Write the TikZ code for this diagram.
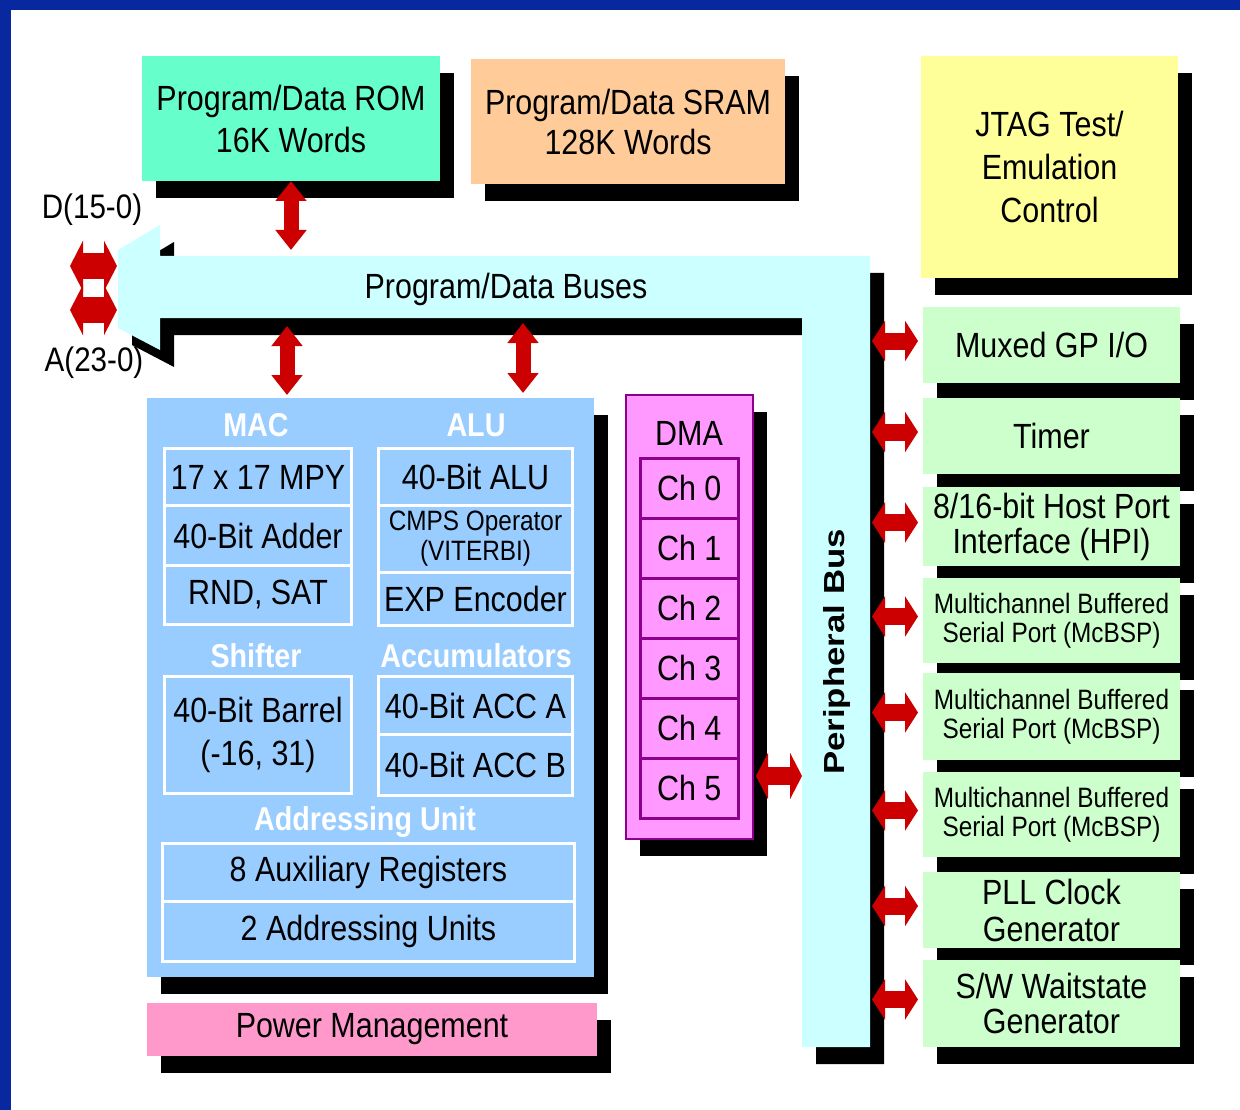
\documentclass[tikz,border=0pt]{standalone}
\usepackage{fontspec}
\setmainfont{Liberation Sans}[FakeStretch=0.87]
\newfontfamily\widesans{Liberation Sans}[FakeStretch=1.2]
\usetikzlibrary{arrows.meta,shadows}
\definecolor{frameblue}{RGB}{8,40,160}
\definecolor{buscyan}{RGB}{204,255,255}
\definecolor{romgreen}{RGB}{102,255,204}
\definecolor{sramorange}{RGB}{255,204,153}
\definecolor{jtagyellow}{RGB}{255,255,153}
\definecolor{perigreen}{RGB}{204,255,204}
\definecolor{cpublue}{RGB}{153,204,255}
\definecolor{powerpink}{RGB}{255,153,204}
\definecolor{dmapink}{RGB}{255,153,255}
\definecolor{dmaline}{RGB}{140,0,140}
\definecolor{arrowred}{RGB}{204,0,0}
\newcommand{\mainsz}{\fontsize{35}{42}\selectfont}
\newcommand{\smallsz}{\fontsize{28}{29}\selectfont}
\newcommand{\headsz}{\bfseries\fontsize{33}{38}\selectfont}
\begin{document}
\begin{tikzpicture}[x=1pt,y=-1pt,
  dropped/.style={drop shadow={shadow xshift=14pt,shadow yshift=-17pt,fill=black,opacity=1}},
  blk/.style={dropped,anchor=north west,inner sep=0pt,outer sep=0pt,align=center,font=\mainsz},
  peri/.style={blk,fill=perigreen,minimum width=257pt},
  cell/.style={draw=white,line width=3pt,fill=cpublue,anchor=north west,inner sep=0pt,align=center,font=\mainsz},
  chan/.style={draw=dmaline,line width=2.5pt,fill=dmapink,anchor=north west,inner sep=0pt,minimum width=98pt,minimum height=60pt,font=\mainsz},
  head/.style={text=white,font=\headsz},
  bivert/.style={draw=arrowred,line width=15pt,{Triangle[length=20pt,width=30pt]}-{Triangle[length=20pt,width=30pt]}},
  bihor/.style={draw=arrowred,line width=17pt,{Triangle[length=13pt,width=40pt]}-{Triangle[length=13pt,width=40pt]}},
  biext/.style={draw=arrowred,line width=26pt,{Triangle[length=13pt,width=50pt]}-{Triangle[length=13pt,width=50pt]}}]
\useasboundingbox (0,0) rectangle (1240,1110);
\fill[frameblue] (0,0) rectangle (1240,10);
\fill[frameblue] (0,0) rectangle (11,1110);

% buses
\fill[buscyan,dropped] (160,256) -- (160,225) -- (118,250) -- (118,328) -- (160,350) -- (160,318)
  -- (802,318) -- (802,1047) -- (870,1047) -- (870,256) -- cycle;
\node[font=\mainsz] (busname) at (506,289) {Program/Data Buses};
\node[rotate=90,font=\widesans\bfseries\fontsize{29}{34}\selectfont] (pbusname) at (837,652) {Peripheral Bus};

% memories and JTAG
\node[blk,fill=romgreen,minimum width=298pt,minimum height=125pt] (rom) at (142,56) {Program/Data ROM\\16K Words};
\node[blk,fill=sramorange,minimum width=314pt,minimum height=125pt,font=\fontsize{35}{40}\selectfont] (sram) at (471,59) {Program/Data SRAM\\128K Words};
\node[blk,fill=jtagyellow,minimum width=257pt,minimum height=222pt,font=\fontsize{35}{43}\selectfont] (jtag) at (921,56) {JTAG Test/\\Emulation\\Control};

% peripherals
\node[peri,minimum height=76pt] (gpio) at (923,307) {Muxed GP I/O};
\node[peri,minimum height=76pt] (timer) at (923,398) {Timer};
\node[peri,minimum height=79pt,font=\fontsize{35}{35}\selectfont] (hpi) at (923,487) {8/16-bit Host Port\\Interface (HPI)};
\node[peri,minimum height=85pt,font=\smallsz] (mcbspa) at (923,578) {Multichannel Buffered\\Serial Port (McBSP)};
\node[peri,minimum height=87pt,font=\smallsz] (mcbspb) at (923,673) {Multichannel Buffered\\Serial Port (McBSP)};
\node[peri,minimum height=85pt,font=\smallsz] (mcbspc) at (923,772) {Multichannel Buffered\\Serial Port (McBSP)};
\node[peri,minimum height=76pt,font=\fontsize{35}{37}\selectfont] (pll) at (923,872) {PLL Clock\\Generator};
\node[peri,minimum height=87pt,font=\fontsize{35}{35}\selectfont] (waits) at (923,960) {S/W Waitstate\\Generator};

% CPU
\node[blk,fill=cpublue,minimum width=447pt,minimum height=579pt] (cpu) at (147,398) {};
\node[head] (machead) at (256,425) {MAC};
\node[head] (aluhead) at (476,425) {ALU};
\node[cell,minimum width=187pt,minimum height=57pt] (mpy) at (163,447) {17 x 17 MPY};
\node[cell,minimum width=187pt,minimum height=60pt] (adder) at (163,504) {40-Bit Adder};
\node[cell,minimum width=187pt,minimum height=59pt] (rnd) at (163,564) {RND, SAT};
\node[cell,minimum width=194pt,minimum height=57pt] (alu) at (377,447) {40-Bit ALU};
\node[cell,minimum width=194pt,minimum height=67pt,font=\fontsize{28}{30}\selectfont] (cmps) at (377,504) {CMPS Operator\\(VITERBI)};
\node[cell,minimum width=194pt,minimum height=53pt] (expenc) at (377,571) {EXP Encoder};
\node[head] (shifthead) at (256,656) {Shifter};
\node[head] (acchead) at (476,656) {Accumulators};
\node[cell,minimum width=187pt,minimum height=117pt,font=\fontsize{35}{43}\selectfont] (barrel) at (163,675) {40-Bit Barrel\\(-16, 31)};
\node[cell,minimum width=194pt,minimum height=58pt] (acca) at (377,675) {40-Bit ACC A};
\node[cell,minimum width=194pt,minimum height=61pt] (accb) at (377,733) {40-Bit ACC B};
\node[head] (addrhead) at (365,822) {Addressing Unit};
\node[cell,minimum width=412pt,minimum height=58pt] (auxreg) at (161,842) {8 Auxiliary Registers};
\node[cell,minimum width=412pt,minimum height=60pt] (addrunits) at (161,900) {2 Addressing Units};

\node[blk,fill=powerpink,minimum width=450pt,minimum height=53pt] (power) at (147,1003) {Power Management};

% DMA
\node[blk,fill=dmapink,draw=dmaline,line width=1.5pt,minimum width=127pt,minimum height=444pt] (dma) at (626,395) {};
\node[font=\mainsz] (dmaname) at (689,433) {DMA};
\foreach \i in {0,...,5}
  \node[chan] (ch\i) at (639,{457+60*\i}) {Ch \i};

% double arrows
\coordinate (romport) at (291,250);
\coordinate (macport) at (287,326);
\coordinate (aluport) at (523,323);
\coordinate (dext) at (70,266);
\coordinate (dbus) at (117,266);
\coordinate (aext) at (70,310);
\coordinate (abus) at (117,310);
\coordinate (pbusedge) at (872,0);
\coordinate (dmaport) at (802,776);
\draw[bivert] (rom.south) -- (romport);
\draw[bivert] (macport) -- ([yshift=3pt]macport |- cpu.north);
\draw[bivert] (aluport) -- ([yshift=5pt]aluport |- cpu.north);
\draw[biext] (dext) -- (dbus);
\draw[biext] (aext) -- (abus);
\foreach \p in {gpio,timer,hpi,mcbspa,mcbspb,mcbspc,pll,waits}
  \draw[bihor] ([yshift=4pt]\p.west -| pbusedge) -- ([shift={(-5pt,4pt)}]\p.west);
\draw[bihor,line width=18pt,{Triangle[length=12pt,width=46pt]}-{Triangle[length=12pt,width=46pt]}] ([xshift=3pt]dma.east |- dmaport) -- (dmaport);

\node[font=\fontsize{34}{40}\selectfont] (dlabel) at (92,210) {D(15-0)};
\node[font=\fontsize{34}{40}\selectfont] (alabel) at (94,363) {A(23-0)};
\end{tikzpicture}
\end{document}
